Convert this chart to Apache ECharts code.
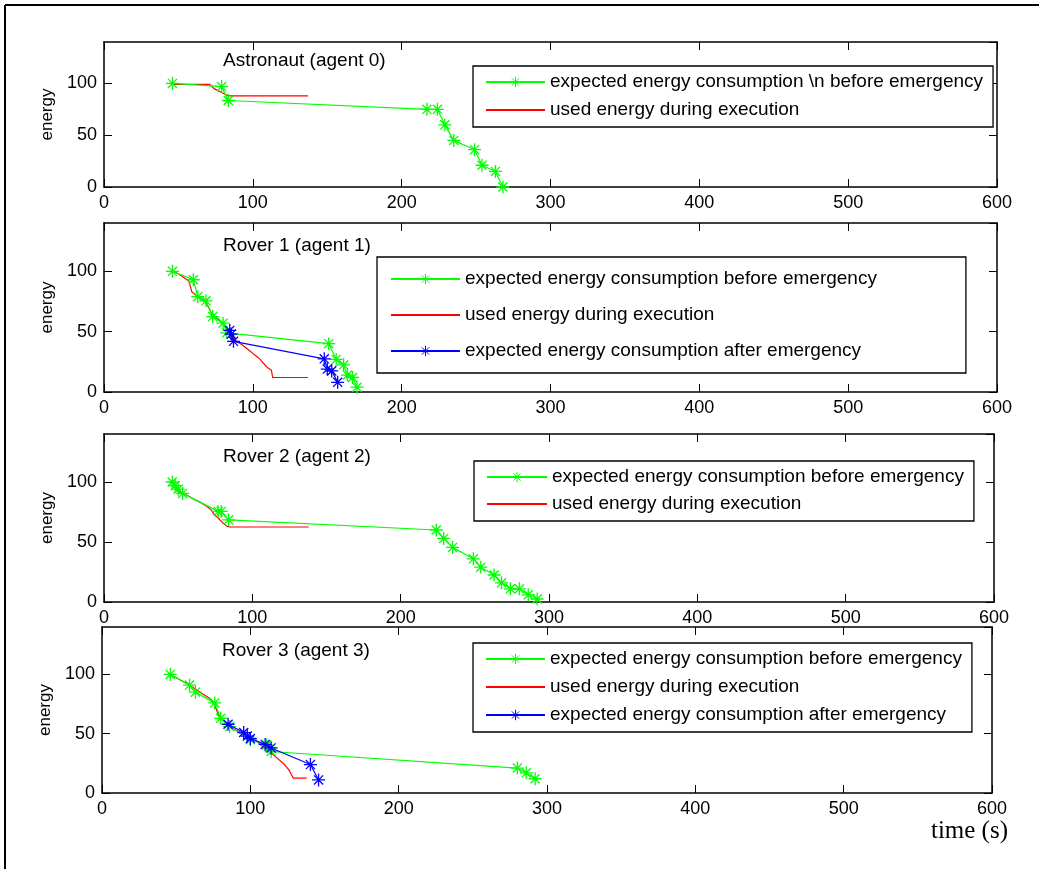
<!DOCTYPE html>
<html>
<head>
<meta charset="utf-8">
<title>energy per agent</title>
<script src="https://cdn.jsdelivr.net/npm/echarts@6/dist/echarts.min.js"></script>
<style>
  html, body { margin: 0; padding: 0; background: #fff; }
  #chart { width: 1039px; height: 869px; }
</style>
</head>
<body>
<div id="chart"></div>
<script>
// axis ranges
const xTicks = [0, 100, 200, 300, 400, 500, 600]
const yTicks = [0, 50, 100]
const yMax = 140

// Astronaut (agent 0)
const astroBefore = [[46, 100], [79, 97], [83.5, 83.5], [217, 75], [224, 75], [229, 60], [235, 45], [249, 36], [254, 21], [263, 15], [268, 0]]
const astroUsed = [[46, 99], [71, 99], [74, 95], [78, 92], [82, 89], [84, 88], [137, 88]]

// Rover 1 (agent 1)
const rover1Before = [[46, 100], [60, 93], [63, 79], [68.5, 75.5], [73, 62.5], [80, 57], [82.5, 49], [151, 40], [156, 27], [161, 22.5], [163.5, 14], [167, 12], [170, 4]]
const rover1Used = [[46, 100], [50, 98], [57, 92], [59, 83], [62, 80], [66, 77], [69, 73], [72, 66], [75, 62], [80, 57], [84, 50], [87, 45], [89, 42], [93, 39], [97, 35], [100, 32], [103, 29], [105, 27], [107, 24], [110, 20], [112.5, 18], [113.3, 12], [137, 12]]
const rover1After = [[84.5, 51], [85.5, 48], [87, 42], [148, 27.5], [150, 19], [153, 17.5], [157, 8]]

// Rover 2 (agent 2)
const rover2Before = [[46, 100], [48, 97], [50, 94], [53, 90.5], [77, 75.5], [79, 75.5], [84, 68.5], [224, 60], [229, 53], [235, 45.5], [249, 36], [254, 29], [263, 22.5], [268, 16], [274, 11], [280, 11], [286, 6], [292, 2.5]]
const rover2Used = [[47, 98], [49, 93], [52, 91], [56, 89], [60, 86], [65, 83], [69, 80], [72, 77], [75, 72], [77, 70], [80, 66], [83, 63], [85, 62.5], [138, 62.5]]

// Rover 3 (agent 3)
const rover3Before = [[46, 100], [59, 91], [63, 85], [76, 76], [80, 63], [86, 56], [100, 45], [111, 40.5], [114, 35], [280, 21], [286, 17], [292, 12]]
const rover3Used = [[46, 100], [59, 91], [66, 85], [72.5, 80], [76, 74], [79, 64], [84, 59], [90, 53], [97, 49], [104, 44], [108.5, 39], [113, 35], [118.5, 29], [123, 24], [126, 19.5], [129, 12.5], [138, 12.5]]
const rover3After = [[85, 58], [95.5, 51], [98, 48], [100, 46], [110, 41], [114, 38], [140.5, 24], [146, 11]]

const nameBefore = 'expected energy consumption before emergency'
const nameUsed = 'used energy during execution'
const nameAfter = 'expected energy consumption after emergency'
const nameBeforeAstro = 'expected energy consumption \\n before emergency'

const GREEN = '#00ff00'
const RED = '#ff0000'
const BLUE = '#0000ff'
const STAR = 'path://M0,5L10,5M5,0L5,10M1.5,1.5L8.5,8.5M1.5,8.5L8.5,1.5'
const SANS = 'Liberation Sans'

const panels = [
  {
    title: 'Astronaut (agent 0)', titlePos: [223, 51],
    grid: { left: 104, top: 42, width: 893, height: 145 },
    before: astroBefore, used: astroUsed, after: null, beforeName: nameBeforeAstro,
    legend: { left: 473, top: 66, padding: [6, 10, 7, 12], itemGap: 8, itemWidth: 59 }
  },
  {
    title: 'Rover 1 (agent 1)', titlePos: [223, 236],
    grid: { left: 104, top: 223, width: 893, height: 169 },
    before: rover1Before, used: rover1Used, after: rover1After, beforeName: nameBefore,
    legend: { left: 377, top: 257, padding: [12, 89, 12, 13], itemGap: 16, itemWidth: 69 }
  },
  {
    title: 'Rover 2 (agent 2)', titlePos: [223, 447],
    grid: { left: 104, top: 434, width: 890, height: 168 },
    before: rover2Before, used: rover2Used, after: null, beforeName: nameBefore,
    legend: { left: 474, top: 461, padding: [6, 10, 7, 12], itemGap: 7, itemWidth: 60 }
  },
  {
    title: 'Rover 3 (agent 3)', titlePos: [222, 641],
    grid: { left: 102, top: 627, width: 890, height: 166 },
    before: rover3Before, used: rover3Used, after: rover3After, beforeName: nameBefore,
    legend: { left: 473, top: 643, padding: [6, 10, 7, 12], itemGap: 8, itemWidth: 59 }
  }
]

const axisLine = { show: true, onZero: false, lineStyle: { color: '#000', width: 1.5 } }
const tick = { show: true, inside: true, length: 8, lineStyle: { color: '#000', width: 1 } }
const tickLabel = { color: '#000', fontFamily: SANS, fontSize: 18 }

const grids = []
const xAxes = []
const yAxes = []
const series = []
const titles = []
const legends = []

panels.forEach(function(p, i) {
  grids.push(Object.assign({ containLabel: false }, p.grid))

  const xBase = {
    type: 'value', gridIndex: i,
    min: xTicks[0], max: xTicks[xTicks.length - 1], interval: xTicks[1] - xTicks[0],
    axisLine: axisLine, axisTick: tick, splitLine: { show: false }
  }
  xAxes.push(Object.assign({}, xBase, {
    position: 'bottom',
    axisLabel: Object.assign({ margin: 7 }, tickLabel)
  }))
  xAxes.push(Object.assign({}, xBase, { position: 'top', axisLabel: { show: false } }))

  const yBase = {
    type: 'value', gridIndex: i,
    min: yTicks[0], max: yMax, interval: yTicks[1] - yTicks[0],
    axisLine: axisLine, axisTick: tick, splitLine: { show: false }
  }
  yAxes.push(Object.assign({}, yBase, {
    position: 'left',
    name: 'energy', nameLocation: 'middle', nameGap: 48,
    nameTextStyle: { color: '#000', fontFamily: SANS, fontSize: 17 },
    axisLabel: Object.assign({ margin: 7, showMaxLabel: false }, tickLabel)
  }))
  yAxes.push(Object.assign({}, yBase, { position: 'right', axisLabel: { show: false } }))

  const idx = { xAxisIndex: 2 * i, yAxisIndex: 2 * i }
  series.push(Object.assign({
    type: 'line', name: p.beforeName, data: p.before,
    symbol: STAR, symbolSize: 13, showSymbol: true,
    lineStyle: { color: GREEN, width: 1.2 },
    itemStyle: { color: GREEN, borderColor: GREEN, borderWidth: 1.3 },
    z: 3
  }, idx))
  series.push(Object.assign({
    type: 'line', name: nameUsed, data: p.used,
    symbol: 'none', showSymbol: false,
    lineStyle: { color: RED, width: 1.2 },
    itemStyle: { color: RED },
    z: 2
  }, idx))
  const legendData = [p.beforeName, { name: nameUsed, itemStyle: { opacity: 0 } }]
  if (p.after) {
    series.push(Object.assign({
      type: 'line', name: nameAfter, data: p.after,
      symbol: STAR, symbolSize: 13, showSymbol: true,
      lineStyle: { color: BLUE, width: 1.2 },
      itemStyle: { color: BLUE, borderColor: BLUE, borderWidth: 1.3 },
      z: 4
    }, idx))
    legendData.push(nameAfter)
  }

  titles.push({
    text: p.title, left: p.titlePos[0], top: p.titlePos[1], padding: 0,
    textStyle: { color: '#000', fontFamily: SANS, fontSize: 19, fontWeight: 'normal', lineHeight: 20 }
  })

  legends.push({
    orient: 'vertical', left: p.legend.left, top: p.legend.top,
    padding: p.legend.padding, itemGap: p.legend.itemGap,
    itemWidth: p.legend.itemWidth, itemHeight: 13,
    backgroundColor: '#fff', borderColor: '#000', borderWidth: 1.3, borderRadius: 0,
    selectedMode: false,
    itemStyle: { borderWidth: 1 },
    textStyle: { color: '#000', fontFamily: SANS, fontSize: 19, lineHeight: 20 },
    data: legendData
  })
})

const chart = echarts.init(document.getElementById('chart'), null, { renderer: 'canvas' })
chart.setOption({
  animation: false,
  backgroundColor: '#fff',
  title: titles,
  legend: legends,
  grid: grids,
  xAxis: xAxes,
  yAxis: yAxes,
  series: series,
  graphic: [
    { type: 'line', shape: { x1: 5, y1: 5, x2: 1039, y2: 5 }, style: { stroke: '#000', lineWidth: 2 } },
    { type: 'line', shape: { x1: 5, y1: 5, x2: 5, y2: 869 }, style: { stroke: '#000', lineWidth: 2 } },
    {
      type: 'text', x: 1008, y: 831,
      style: { text: 'time (s)', fill: '#000', font: '25px "Liberation Serif"', textAlign: 'right', textVerticalAlign: 'middle' }
    }
  ]
})
</script>
</body>
</html>
